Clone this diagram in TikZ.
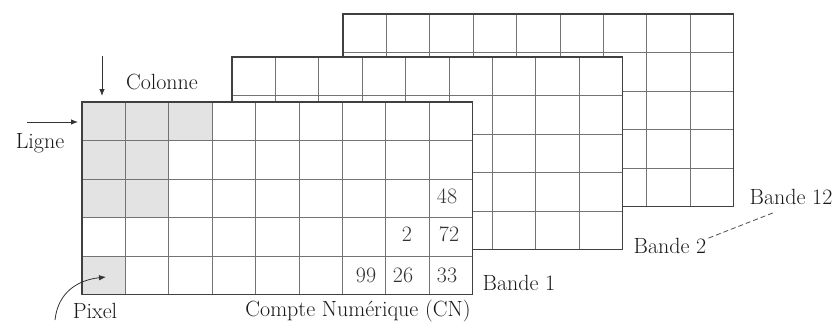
\documentclass[tikz,border=0pt]{standalone}
\usetikzlibrary{arrows.meta,positioning}

\begin{document}
\begin{tikzpicture}[x=1pt, y=-1pt, >={Latex[length=7pt,width=5.5pt]}, font=\fontsize{22}{25}\selectfont,
  grille/.style={draw=black!55, line width=0.9pt},
  cadre/.style={draw=black!75, line width=1.2pt},
  gris/.style={fill=black!11},
  etiq/.style={inner sep=0pt, text=black!90},
  val/.style={inner sep=0pt, text=black!80}]
\useasboundingbox (0,0) rectangle (839,324);
% bandes 12 et 2 (derriere)
\foreach \bx/\by in {343/14, 232/57}{
  \begin{scope}[shift={(\bx,\by)}]
    \fill[white] (0,0) rectangle (390.6,192.5);
    \foreach \i in {1,...,8} \draw[grille] (\i*43.4,0) -- (\i*43.4,192.5);
    \foreach \j in {1,...,4} \draw[grille] (0,\j*38.5) -- (390.6,\j*38.5);
    \draw[cadre] (0,0) rectangle (390.6,192.5);
  \end{scope}
}
% bande 1 (devant)
\begin{scope}[shift={(82,102)}]
  \fill[white] (0,0) rectangle (390.6,192.5);
  \foreach \c/\r in {1/1,2/1,3/1,1/2,2/2,1/3,2/3,1/5}
    \fill[gris] ({(\c-1)*43.4},{(\r-1)*38.5}) rectangle ++(43.4,38.5);
  \foreach \i in {1,...,8} \draw[grille] (\i*43.4,0) -- (\i*43.4,192.5);
  \foreach \j in {1,...,4} \draw[grille] (0,\j*38.5) -- (390.6,\j*38.5);
  \draw[cadre] (0,0) rectangle (390.6,192.5);
  \coordinate (casepx) at (24,175);
  % comptes numeriques
  \node[val] (v48) at (365,94) {48};
  \node[val] (v2) at (325,132) {2};
  \node[val] (v72) at (367,132) {72};
  \node[val] (v99) at (284,173) {99};
  \node[val] (v26) at (321,173) {26};
  \node[val] (v33) at (365,173) {33};
\end{scope}

\node[etiq] (colonne) at (162,82) {Colonne};
\node[etiq] (ligne) at (40,143) {Ligne};
\node[etiq] (pixel) at (95,311) {Pixel};
\node[etiq] (cn) at (358,311) {Compte Numérique (CN)};
\node[etiq] (bande1) at (519,283) {Bande 1};
\node[etiq] (bande2) at (670,246) {Bande 2};
\node[etiq] (bande12) at (791,197) {Bande 12};

\coordinate (colhaut) at (102,56);
\coordinate (colbas) at (102,96);
\coordinate (ligdep) at (27,122);
\coordinate (ligfin) at (78,122);
\coordinate (pixdep) at (55,320);

\draw[->, thick, black!80] (colhaut) -- (colbas);
\draw[->, thick, black!80] (ligdep) -- (ligfin);
\draw[->, thick, black!80] (pixdep) .. controls (58,292) and (78,280) .. (casepx);
\draw[dashed, thick, black!70, dash pattern=on 5pt off 3pt] ([xshift=2pt]bande2.north east) -- ([xshift=26pt,yshift=-7pt]bande12.south west);
\end{tikzpicture}
\end{document}
